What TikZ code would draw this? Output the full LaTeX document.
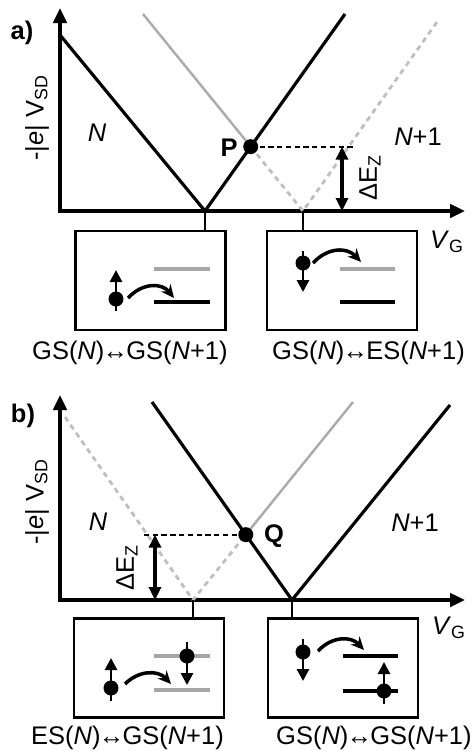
\documentclass[tikz,border=0pt]{standalone}
\usepackage{fontspec}
\setmainfont{Liberation Sans}
\usetikzlibrary{arrows.meta}

\begin{document}
\begin{tikzpicture}[x=0.02cm, y=-0.02cm,
  >={Triangle[length=0.3cm,width=0.27cm]},
  font=\fontsize{14.5}{17}\selectfont,
  line/.style={line width=1.8pt},
  greyline/.style={line width=1.4pt, gray!65},
  greydash/.style={line width=1.6pt, gray!50, dash pattern=on 3pt off 2.5pt},
  guide/.style={line width=1.1pt, dash pattern=on 3pt off 2pt},
  frame/.style={draw, line width=1.2pt, minimum width=3cm, minimum height=1.98cm},
  level/.style={line width=2.5pt},
  dot/.style={circle, fill, inner sep=0pt, minimum size=0.3cm},
  spin/.style={line width=1.6pt, -{Triangle[length=0.24cm,width=0.24cm]}},
  hop/.style={line width=2pt, -{Stealth[length=0.26cm,width=0.24cm]}}]
\useasboundingbox (0,0) rectangle (475,751);

% ---------- panel a ----------
\node (la) at (22,33) {\bfseries a)};
\coordinate (Oa) at (60,211);
\coordinate (Ya) at (60,8);
\coordinate (Xa) at (465,211);
\draw[line,<->] (Ya) -- (Oa) -- (Xa);
\node[rotate=90] (vsda) at (37,118) {-|\textit{e}| V\textsubscript{SD}};
\node (vga) at (447,242) {\textit{V}\textsubscript{G}};

% diamond edges
\coordinate (a1) at (60,35);
\coordinate (Ga) at (205,211);
\coordinate (a2) at (345,14);
\coordinate (a3) at (143,14);
\coordinate (Ea) at (303,211);
\coordinate (a4) at (437,22);
\coordinate (P) at (intersection of a3--Ea and Ga--a2);
\draw[greydash] (P) -- (Ea) -- (a4);
\draw[greyline] (a3) -- (P);
\draw[line] (a1) -- (Ga) -- (a2);

% Zeeman splitting
\draw[guide] (P) -- ++(102,0) coordinate (Pr);
\coordinate (za) at (342,211);
\draw[line,<->,>={Triangle[length=0.26cm,width=0.24cm]}] (za |- P) -- (za);
\node[rotate=90] (dEa) at (370,178) {ΔE\textsubscript{Z}};
\node[dot] (Pd) at (P) {};
\node (Pl) at (229,148) {\bfseries P};
\node (Na) at (97,133) {\textit{N}};
\node (N1a) at (418,137) {\textit{N}+1};

% level boxes
\node[frame] (boxa1) at (150.5,280.5) {};
\node[frame] (boxa2) at (342,280.5) {};
\draw[line width=1.2pt] (Ga) -- (Ga |- boxa1.north);
\draw[line width=1.2pt] (Ea) -- (Ea |- boxa2.north);
\node[anchor=base west] (ta1) at (26,359) {GS(\textit{N})\kern-1pt↔\kern-1ptGS(\textit{N}+1)};
\node[anchor=base west] (ta2) at (266,359) {GS(\textit{N})\kern-1pt↔\kern-1ptES(\textit{N}+1)};

% box a1
\draw[level, gray!70] (154,269) -- (210,269);
\draw[level] (154,302) -- (210,302);
\node[dot] (ea1) at (116,299) {};
\draw[spin] (116,311) -- (116,270);
\draw[hop] (128,298) .. controls (143,282) and (162,283) .. (174,298);

% box a2
\draw[level, gray!70] (340,269) -- (395,269);
\draw[level] (340,302) -- (395,302);
\node[dot] (ea2) at (303,263) {};
\draw[spin] (303,251) -- (303,292);
\draw[hop] (313,263) .. controls (328,247) and (347,247) .. (361,262);

% ---------- panel b ----------
\node (lb) at (23,416) {\bfseries b)};
\coordinate (Ob) at (60,600);
\coordinate (Yb) at (60,395);
\coordinate (Xb) at (465,600);
\draw[line,<->] (Yb) -- (Ob) -- (Xb);
\node[rotate=90] (vsdb) at (37,502) {-|\textit{e}| V\textsubscript{SD}};
\node (vgb) at (449,628) {\textit{V}\textsubscript{G}};

% diamond edges
\coordinate (b1) at (65,417);
\coordinate (Eb) at (193,600);
\coordinate (Gb) at (292,600);
\coordinate (b2) at (152,402);
\coordinate (b3) at (450,405);
\coordinate (b4) at (353,402);
\coordinate (Q) at (intersection of b2--Gb and Eb--b4);
\draw[greydash] (b1) -- (Eb) -- (Q);
\draw[greyline] (Q) -- (b4);
\draw[line] (b2) -- (Gb) -- (b3);

% Zeeman splitting
\draw[guide] (Q) -- ++(-103,0) coordinate (Ql);
\coordinate (zb) at (155,600);
\draw[line,<->,>={Triangle[length=0.26cm,width=0.24cm]}] (zb |- Q) -- (zb);
\node[rotate=90] (dEb) at (127,568) {ΔE\textsubscript{Z}};
\node[dot] (Qd) at (Q) {};
\node (Qlb) at (274,536) {\bfseries Q};
\node (Nb) at (98,522) {\textit{N}};
\node (N1b) at (415,523) {\textit{N}+1};

% level boxes
\node[frame] (boxb1) at (149,668) {};
\node[frame] (boxb2) at (343,668) {};
\draw[line width=1.2pt] (Eb) -- (Eb |- boxb1.north);
\draw[line width=1.2pt] (Gb) -- (Gb |- boxb2.north);
\node[anchor=base west] (tb1) at (25,744) {ES(\textit{N})\kern-1pt↔\kern-1ptGS(\textit{N}+1)};
\node[anchor=base west] (tb2) at (270,744) {GS(\textit{N})\kern-1pt↔\kern-1ptGS(\textit{N}+1)};

% box b1
\draw[level, gray!70] (154,656) -- (210,656);
\draw[level, gray!70] (154,690) -- (210,690);
\node[dot] (eb1) at (111,688) {};
\draw[spin] (111,701) -- (111,658);
\draw[hop] (125,684) .. controls (139,670) and (158,670) .. (171,684);
\node[dot] (eb2) at (187,656) {};
\draw[spin] (187,642) -- (187,685);

% box b2
\draw[level] (343,656) -- (398,656);
\draw[level] (343,691) -- (398,691);
\node[dot] (eb3) at (303,652) {};
\draw[spin] (303,639) -- (303,681);
\draw[hop] (318,651) .. controls (332,636) and (351,636) .. (364,650);
\node[dot] (eb4) at (384,691) {};
\draw[spin] (384,704) -- (384,662);
\end{tikzpicture}
\end{document}
